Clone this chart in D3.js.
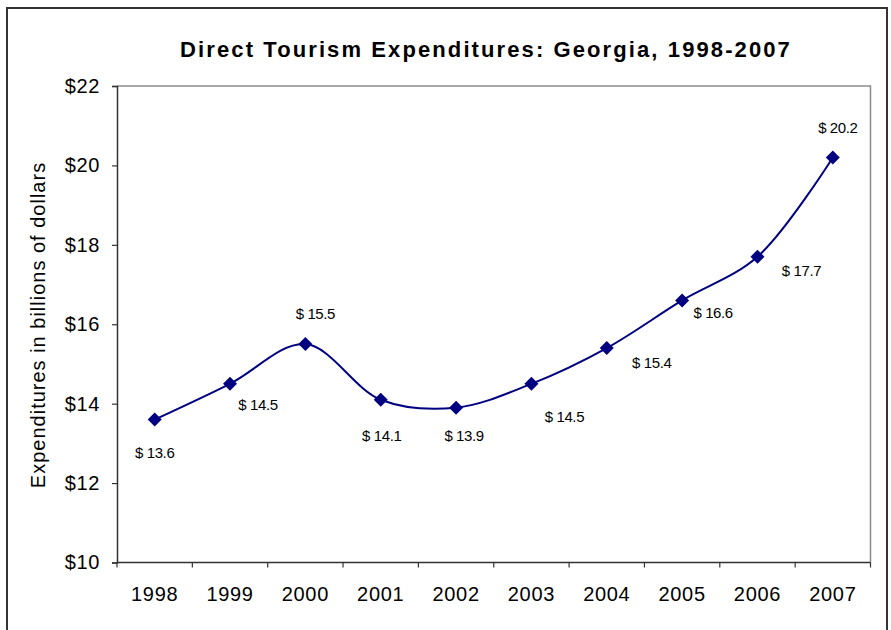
<!DOCTYPE html>
<html>
<head>
<meta charset="utf-8">
<script src="https://cdn.jsdelivr.net/npm/d3@7"></script>
<style>
  html, body { margin: 0; padding: 0; background: #fff; }
  svg { display: block; font-family: "Liberation Sans", Arial, sans-serif; }
</style>
</head>
<body>
<svg id="chart" width="891" height="630"></svg>
<script>
// Direct tourism expenditures in Georgia, billions of dollars
const years = ["1998", "1999", "2000", "2001", "2002", "2003", "2004", "2005", "2006", "2007"];
const spending = [13.6, 14.5, 15.5, 14.1, 13.9, 14.5, 15.4, 16.6, 17.7, 20.2];
const yTicks = [10, 12, 14, 16, 18, 20, 22];

// Where each value label sits relative to its marker (centre offset, px)
const labelOffsets = [
  [0, 33], [28, 21], [10, -30], [1, 36], [8, 28],
  [33, 33], [45, 15], [31, 13], [44, 14], [5, -29]
];

const svg = d3.select("#chart");
const plot = { left: 117, right: 870.5, top: 86, bottom: 562.5 };

// Outer frame (bottom edge runs off the page)
svg.append("path")
  .attr("d", "M7,640 V8 H887 V640")
  .attr("fill", "none")
  .attr("stroke", "#333")
  .attr("stroke-width", 2);

const x = d3.scaleBand().domain(years).range([plot.left, plot.right]).padding(0);
const y = d3.scaleLinear().domain([10, 22]).range([plot.bottom, plot.top]);

// Plot-area top and right edges
svg.append("path")
  .attr("d", `M${plot.left},${plot.top} H${plot.right} V${plot.bottom}`)
  .attr("fill", "none")
  .attr("stroke", "#8c8c8c")
  .attr("stroke-width", 1.5);

// Y axis
const yAxis = svg.append("g")
  .attr("transform", `translate(${plot.left},0)`)
  .call(d3.axisLeft(y).tickValues(yTicks).tickSize(5).tickPadding(12)
    .tickFormat(d => "$" + d));
yAxis.select(".domain").attr("stroke", "#333").attr("stroke-width", 1.5);
yAxis.selectAll(".tick line").attr("stroke", "#333").attr("stroke-width", 1.2);
yAxis.selectAll("text").attr("font-size", 20).attr("fill", "#000")
  .attr("letter-spacing", 0.6)
  .attr("font-family", "'Liberation Sans', Arial, sans-serif");

// X axis: ticks on category boundaries
const boundaries = years.map(d => x(d)).concat([plot.right]);
const xAxisG = svg.append("g");
xAxisG.append("line")
  .attr("x1", plot.left).attr("x2", plot.right)
  .attr("y1", plot.bottom).attr("y2", plot.bottom)
  .attr("stroke", "#333").attr("stroke-width", 1.5);
xAxisG.selectAll("line.tick")
  .data(boundaries)
  .join("line")
  .attr("class", "tick")
  .attr("x1", d => d).attr("x2", d => d)
  .attr("y1", plot.bottom).attr("y2", plot.bottom + 5)
  .attr("stroke", "#333").attr("stroke-width", 1.2);
xAxisG.selectAll("text")
  .data(years)
  .join("text")
  .attr("x", d => x(d) + x.bandwidth() / 2)
  .attr("y", plot.bottom + 38)
  .attr("text-anchor", "middle")
  .attr("font-size", 20)
  .attr("letter-spacing", 0.7)
  .attr("fill", "#000")
  .text(d => d);

// Axis title
svg.append("text")
  .attr("transform", `translate(45,325) rotate(-90)`)
  .attr("text-anchor", "middle")
  .attr("font-size", 20)
  .attr("letter-spacing", 1)
  .attr("fill", "#000")
  .text("Expenditures in billions of dollars");

// Chart title
svg.append("text")
  .attr("x", 486)
  .attr("y", 57)
  .attr("text-anchor", "middle")
  .attr("font-size", 22)
  .attr("font-weight", "bold")
  .attr("letter-spacing", 2.1)
  .attr("fill", "#000")
  .text("Direct Tourism Expenditures: Georgia, 1998-2007");

// Smoothed series line
const pts = years.map((d, i) => [x(d) + x.bandwidth() / 2, y(spending[i])]);
svg.append("path")
  .datum(pts)
  .attr("d", d3.line().curve(d3.curveCatmullRom.alpha(0.5)))
  .attr("fill", "none")
  .attr("stroke", "#000080")
  .attr("stroke-width", 2);

// Diamond markers
svg.selectAll("path.marker")
  .data(pts)
  .join("path")
  .attr("class", "marker")
  .attr("transform", d => `translate(${d[0]},${d[1]})`)
  .attr("d", "M0,-7 L7,0 L0,7 L-7,0 Z")
  .attr("fill", "#000080");

// Value labels
svg.selectAll("text.value")
  .data(pts)
  .join("text")
  .attr("class", "value")
  .attr("x", (d, i) => d[0] + labelOffsets[i][0])
  .attr("y", (d, i) => d[1] + labelOffsets[i][1] + 5)
  .attr("text-anchor", "middle")
  .attr("font-size", 15)
  .attr("letter-spacing", -0.4)
  .attr("fill", "#000")
  .text((d, i) => "$ " + spending[i].toFixed(1));
</script>
</body>
</html>
